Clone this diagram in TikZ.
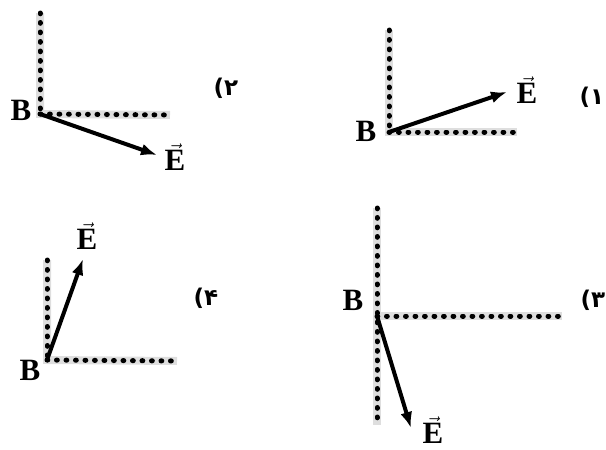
\documentclass[tikz,border=0pt]{standalone}
\usepackage{fontspec}
\setmainfont{Liberation Serif}
\newfontfamily\arabicfont[Script=Arabic]{DejaVu Sans}
\usetikzlibrary{arrows.meta}

\tikzset{
  halo/.style={draw=black!13, line width=8pt},
  dots/.style={draw=black, line width=5pt, line cap=round, dash pattern=on 0.8pt off 8.7pt},
  field/.style={draw=black, line width=4pt, -{Latex[length=16pt,width=12pt]}},
  lbl/.style={inner sep=0pt, font=\fontsize{31}{31}\selectfont\bfseries},
  num/.style={inner sep=0pt, font=\fontsize{23}{23}\selectfont\arabicfont\bfseries}
}

\newcommand{\Evec}{$\vec{\mbox{\bfseries E}}$}

\begin{document}
\begin{tikzpicture}[x=1pt,y=-1pt]
\useasboundingbox (0,0) rectangle (606,450);

% panel 1
\coordinate (O1) at (389,132);
\coordinate (V1) at (389,30);
\coordinate (H1) at (517,132);
\coordinate (T1) at (507,92);
\draw[halo] (V1)--(O1)--(H1);
\draw[dots] (V1)--(O1);
\draw[dots] (O1)--(H1);
\draw[field] (O1)--(T1);
\node[lbl] (B1) at (366,131) {B};
\node[lbl] (E1) at (527,90) {\Evec};
\node[num] (N1) at (592,97) {۱)};

% panel 2
\coordinate (O2) at (40,114);
\coordinate (V2) at (40,13);
\coordinate (H2) at (170,115);
\coordinate (T2) at (157,155);
\draw[halo] (V2)--(O2)--(H2);
\draw[dots] (V2)--(O2);
\draw[dots] (O2)--(H2);
\draw[field] (O2)--(T2);
\node[lbl] (B2) at (21,110) {B};
\node[lbl] (E2) at (175,157) {\Evec};
\node[num] (N2) at (226,88) {۲)};

% panel 3
\coordinate (O3) at (377,316);
\coordinate (V3) at (377,208);
\coordinate (W3) at (377,425);
\coordinate (H3) at (562,316);
\coordinate (T3) at (411,428);
\draw[halo] (V3)--(W3);
\draw[halo] (O3)--(H3);
\draw[dots] (V3)--(W3);
\draw[dots] (O3)--(H3);
\draw[field] (O3)--(T3);
\node[lbl] (B3) at (353,300) {B};
\node[lbl] (E3) at (433,430) {\Evec};
\node[num] (N3) at (593,300) {۳)};

% panel 4
\coordinate (O4) at (47,360);
\coordinate (V4) at (47,260);
\coordinate (H4) at (177,361);
\coordinate (T4) at (83,259);
\draw[halo] (V4)--(O4)--(H4);
\draw[dots] (V4)--(O4);
\draw[dots] (O4)--(H4);
\draw[field] (O4)--(T4);
\node[lbl] (B4) at (30,370) {B};
\node[lbl] (E4) at (87,236) {\Evec};
\node[num] (N4) at (206,298) {۴)};

\end{tikzpicture}
\end{document}
